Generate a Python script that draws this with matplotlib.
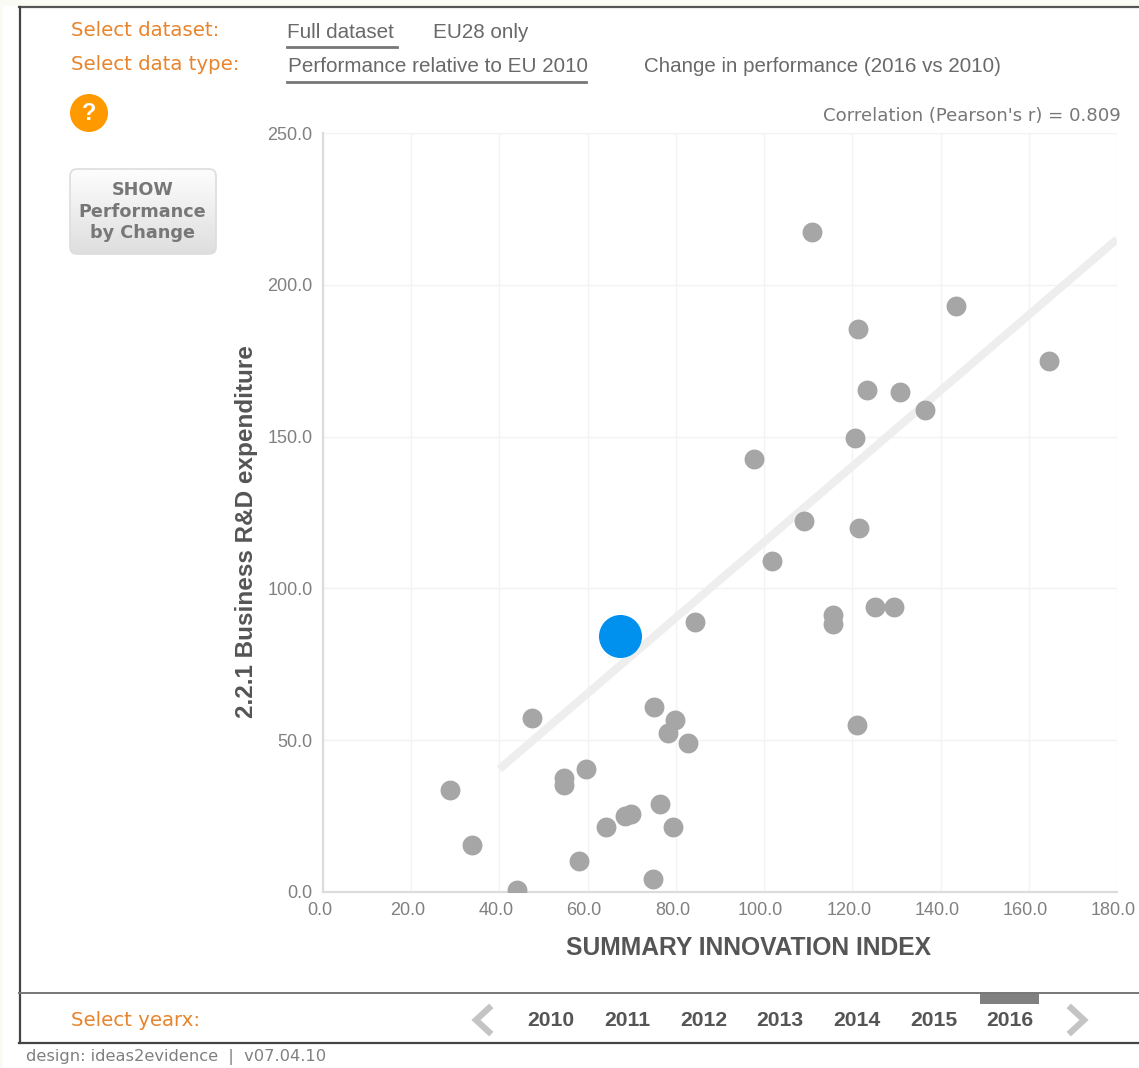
import numpy as np
import matplotlib
matplotlib.use("Agg")
import matplotlib.pyplot as plt
from matplotlib.patches import FancyBboxPatch, Circle, Rectangle
from matplotlib.transforms import ScaledTranslation

# ---- data ----
x_values = [28.8, 33.8, 44.0, 47.4, 54.6, 54.6, 59.6, 58.0, 64.2, 68.5, 69.8, 75.0,
            74.8, 76.4, 78.2, 79.8, 79.4, 82.8, 84.4, 97.7, 101.8, 109.0, 110.9,
            115.6, 115.6, 121.1, 120.6, 121.3, 121.5, 123.4, 125.2, 129.5, 130.8,
            136.5, 143.5, 164.6]
y_values = [33.6, 15.5, 0.7, 57.3, 37.5, 35.2, 40.5, 10.2, 21.4, 25.0, 25.7, 61.0,
            4.3, 29.1, 52.4, 56.7, 21.4, 49.1, 88.9, 142.6, 109.0, 122.2, 217.4,
            91.2, 88.2, 55.0, 149.5, 185.3, 119.9, 165.3, 93.9, 93.9, 164.7,
            158.8, 192.9, 174.8]
highlight_x = [67.4]
highlight_y = [84.3]
trend_x = [40.0, 180.0]
trend_y = [40.5, 215.0]
x_ticks = [0, 20, 40, 60, 80, 100, 120, 140, 160, 180]
y_ticks = [0, 50, 100, 150, 200, 250]
years = ["2010", "2011", "2012", "2013", "2014", "2015", "2016"]
year_pos = [551, 627, 704, 780, 857, 934, 1010]

W, H = 1139, 1068
fig = plt.figure(figsize=(W / 100, H / 100), dpi=100, facecolor="#ffffff")

# ---- overlay in pixel coordinates for the surrounding interface ----
ui = fig.add_axes([0, 0, 1, 1], zorder=0)
ui.set_xlim(0, W)
ui.set_ylim(H, 0)
ui.axis("off")

SANS = "DejaVu Sans"
ARIAL = "Liberation Sans"
ORANGE = "#e8842c"
GRAY = "#696969"

ui.add_patch(Rectangle((0, 0), W, 6, fc="#fbfbf5", ec="none"))
ui.add_patch(Rectangle((0, 0), 3, H, fc="#fbfbf5", ec="none"))
ui.plot([19, W], [7, 7], color="#555555", lw=1.6)
ui.plot([19.5, 19.5], [7, 1043], color="#444444", lw=1.6)
ui.plot([19, W], [993, 993], color="#777777", lw=1.4)
ui.plot([19, W], [1043, 1043], color="#444444", lw=1.6)

ui.text(71, 30, "Select dataset:", color=ORANGE, fontsize=14.2, family=SANS, va="center")
ui.text(71, 64, "Select data type:", color=ORANGE, fontsize=14.2, family=SANS, va="center")
ui.text(71, 1020, "Select yearx:", color=ORANGE, fontsize=14.2, family=SANS, va="center")

ui.text(287, 32, "Full dataset", color=GRAY, fontsize=14.9, family=ARIAL, va="center")
ui.plot([287, 397], [47, 47], color="#777777", lw=2)
ui.text(433, 32, "EU28 only", color=GRAY, fontsize=14.9, family=ARIAL, va="center")
ui.text(288, 66, "Performance relative to EU 2010", color=GRAY, fontsize=14.9, family=ARIAL, va="center")
ui.plot([287, 586], [82, 82], color="#777777", lw=2)
ui.text(644, 66, "Change in performance (2016 vs 2010)", color=GRAY, fontsize=14.8, family=ARIAL, va="center")

ui.add_patch(Circle((89, 113), 19, fc="#ff9900", ec="none"))
ui.text(89, 113, "?", color="white", fontsize=17, weight="bold", family=ARIAL, ha="center", va="center")

btn = FancyBboxPatch((70, 169), 146, 85, boxstyle="round,pad=0,rounding_size=7",
                     fc="none", ec="#dddddd", lw=1.2, zorder=3)
ui.add_patch(btn)
grad = np.linspace(0.99, 0.87, 64).reshape(-1, 1)
im = ui.imshow(grad, extent=(70, 216, 254, 169), cmap="gray", vmin=0, vmax=1,
               aspect="auto", zorder=2)
im.set_clip_path(btn)
ui.set_xlim(0, W)
ui.set_ylim(H, 0)
for yy, s in zip([190, 212, 233], ["SHOW", "Performance", "by Change"]):
    ui.text(142.5, yy, s, color="#777777", fontsize=12.7, weight="bold", family=SANS,
            ha="center", va="center", zorder=4)

ui.text(1121, 116, "Correlation (Pearson's r) = 0.809", color="#777777", fontsize=13.1,
        family=SANS, ha="right", va="center")

ui.text(246, 532, "2.2.1 Business R&D expenditure", color="#555555", fontsize=17.5,
        weight="bold", family=ARIAL, rotation=90, ha="center", va="center")
ui.text(748, 948, "SUMMARY INNOVATION INDEX", color="#555555", fontsize=17.7,
        weight="bold", family=ARIAL, ha="center", va="center")

for yr, xp in zip(years, year_pos):
    ui.text(xp, 1021, yr, color="#555555", fontsize=15.2, weight="bold", family=ARIAL,
            ha="center", va="center")
ui.add_patch(Rectangle((980, 993), 59, 11, fc="#808080", ec="none"))
ui.plot([489, 476, 489], [1008, 1020, 1032], color="#c4c4c4", lw=4.5, solid_joinstyle="miter")
ui.plot([1071, 1084, 1071], [1008, 1020, 1032], color="#c4c4c4", lw=4.5, solid_joinstyle="miter")
ui.text(26, 1057, "design: ideas2evidence  |  v07.04.10", color="#808080", fontsize=11.7,
        family=SANS, va="center")

# ---- chart ----
left, right, top, bottom = 323, 1117, 133, 892
ax = fig.add_axes([left / W, 1 - bottom / H, (right - left) / W, (bottom - top) / H], zorder=1)
ax.patch.set_alpha(0)
ax.set_xlim(0, 180)
ax.set_ylim(0, 250)
ax.set_xticks(x_ticks)
ax.set_yticks(y_ticks)
ax.set_xticklabels([f"{v:.1f}" for v in x_ticks])
ax.set_yticklabels([f"{v:.1f}" for v in y_ticks])
ax.grid(True, color="#f3f3f3", lw=1.0)
ax.set_axisbelow(True)
for side in ("top", "right"):
    ax.spines[side].set_visible(False)
for side in ("left", "bottom"):
    ax.spines[side].set_color("#dcdcdc")
    ax.spines[side].set_linewidth(1.6)
ax.tick_params(length=0, labelsize=13, labelcolor="#808080", pad=7.5)
ax.tick_params(axis="x", pad=7.5)
for lab in ax.get_xticklabels():
    lab.set_family(ARIAL)
    lab.set_transform(lab.get_transform() + ScaledTranslation(-3.5 / 100, 0, fig.dpi_scale_trans))
for lab in ax.get_yticklabels():
    lab.set_family(ARIAL)

ax.plot(trend_x, trend_y, color="#eeeeee", lw=5.8, solid_capstyle="butt", zorder=2)
ax.scatter(x_values, y_values, s=205, color="#a6a6a6", linewidths=0, zorder=3)
ax.scatter(highlight_x, highlight_y, s=960, color="#0090ee", linewidths=0, zorder=4)

fig.savefig("out.png", dpi=100, facecolor=fig.get_facecolor())
